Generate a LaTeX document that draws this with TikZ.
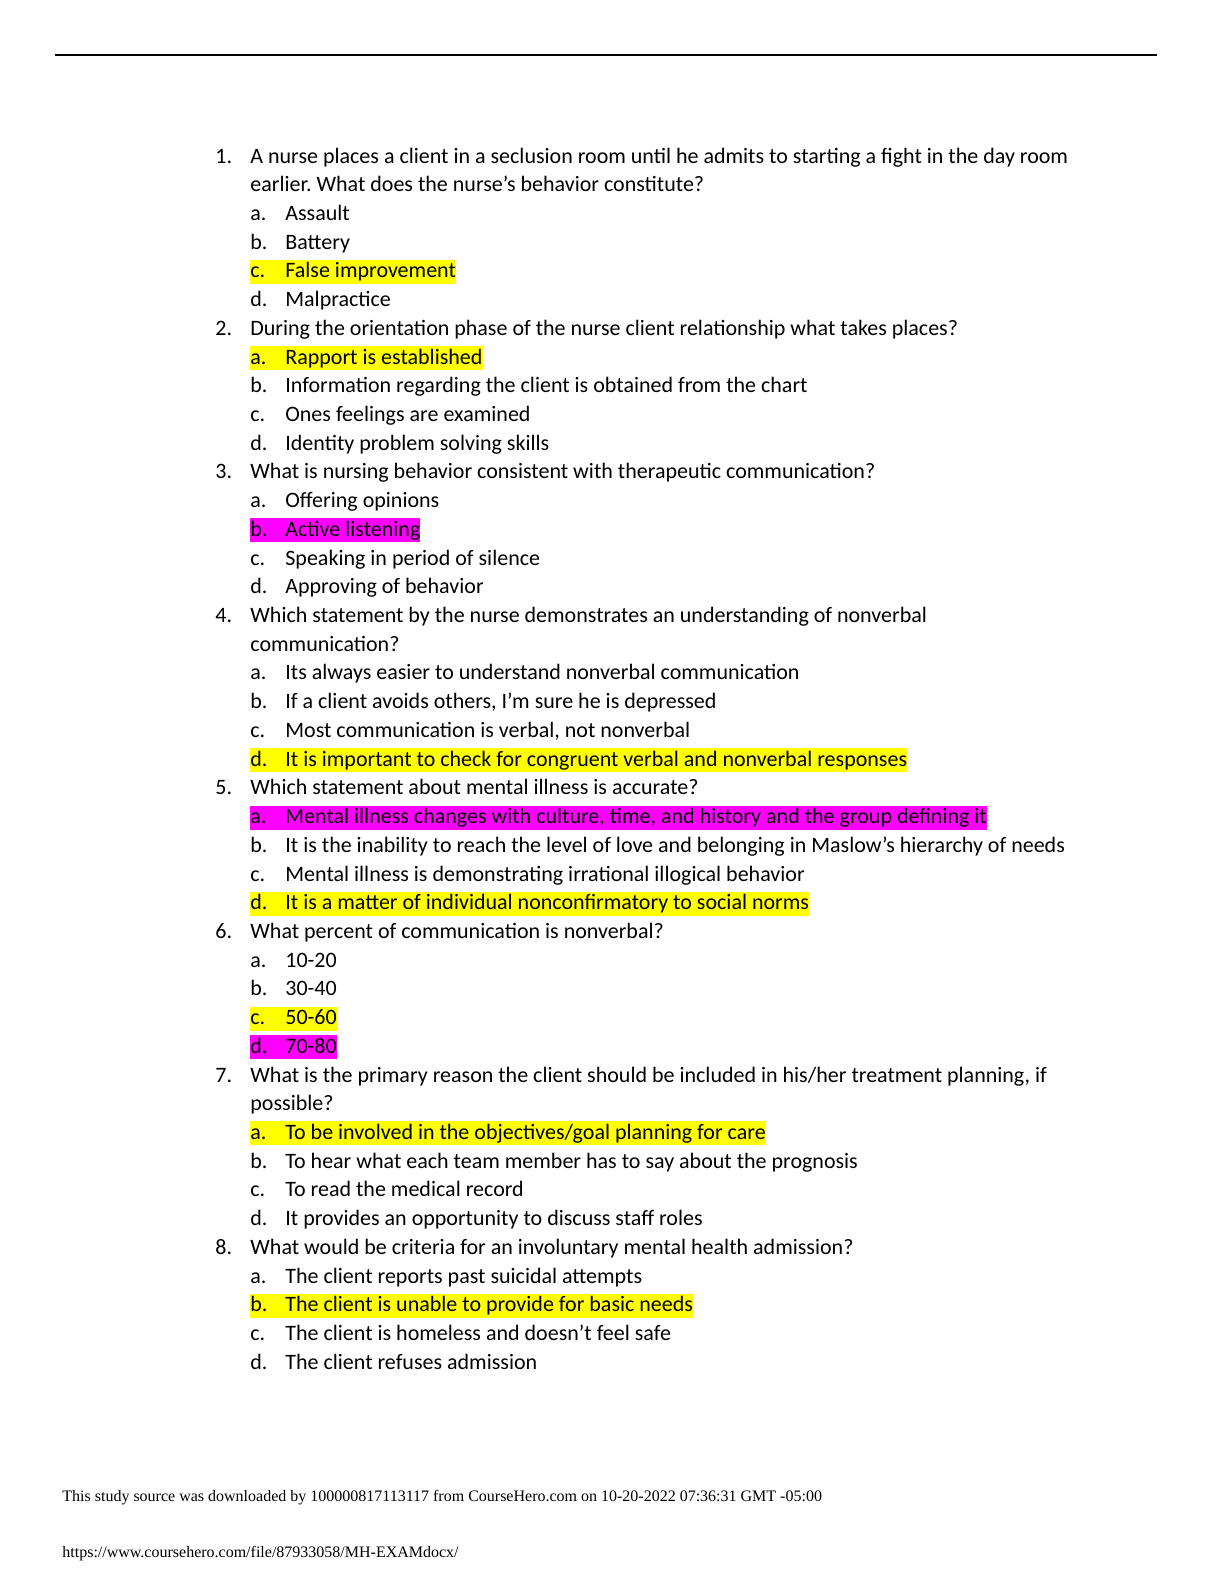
\documentclass[tikz,border=0pt]{standalone}
\usepackage{fontspec}
\setmainfont{Carlito}
\newfontfamily\footfont{Liberation Serif}
\definecolor{hlyellow}{RGB}{255,255,0}
\definecolor{hlmagenta}{RGB}{255,0,255}
\newcommand\optline[2]{\makebox[17.5pt][l]{#1}#2}
\begin{document}
\begin{tikzpicture}[x=0.5pt,y=-0.5pt]
  \tikzset{q/.style={anchor=base west, inner sep=0pt, font=\fontsize{11}{13}\selectfont},
           hl/.style={q, fill=#1, text height=9pt, text depth=3pt},
           foot/.style={anchor=base west, inner sep=0pt, font=\footfont\fontsize{8}{10}\selectfont}}
  \fill[white] (0,0) rectangle (1224,1584);
  \coordinate (rl) at (55,55);
  \coordinate (rr) at (1157,55);
  \draw[line width=0.6pt] (rl) -- (rr);

  \begin{scope}[yshift=-81.5pt, y=-14.36pt]
    % question lines
    \foreach \k/\n/\t in {0/1./{A nurse places a client in a seclusion room until he admits to starting a fight in the day room},
        1//{earlier.\ What does the nurse’s behavior constitute?},
        6/2./During the orientation phase of the nurse client relationship what takes places?,
        11/3./What is nursing behavior consistent with therapeutic communication?,
        16/4./Which statement by the nurse demonstrates an understanding of nonverbal,
        17//communication?,
        22/5./Which statement about mental illness is accurate?,
        27/6./What percent of communication is nonverbal?,
        32/7./{What is the primary reason the client should be included in his/her treatment planning, if},
        33//possible?,
        38/8./What would be criteria for an involuntary mental health admission?}
      \node[q] (n\k) at (215,\k) {\n} (250,\k) node[q] (t\k) {\t};

    % plain answers
    \foreach \k/\l/\t in {2/a./Assault, 3/b./Battery, 5/d./Malpractice,
        8/b./Information regarding the client is obtained from the chart,
        9/c./Ones feelings are examined, 10/d./Identity problem solving skills,
        12/a./Offering opinions, 14/c./Speaking in period of silence, 15/d./Approving of behavior,
        18/a./Its always easier to understand nonverbal communication,
        19/b./{If a client avoids others, I’m sure he is depressed},
        20/c./{Most communication is verbal, not nonverbal},
        24/b./It is the inability to reach the level of love and belonging in Maslow’s hierarchy of needs,
        25/c./Mental illness is demonstrating irrational illogical behavior,
        28/a./10-20, 29/b./30-40,
        35/b./To hear what each team member has to say about the prognosis,
        36/c./To read the medical record, 37/d./It provides an opportunity to discuss staff roles,
        39/a./The client reports past suicidal attempts,
        41/c./The client is homeless and doesn’t feel safe, 42/d./The client refuses admission}
      \node[q] (o\k) at (250,\k) {\optline{\l}{\t}};

    % highlighted answers
    \foreach \k/\c/\l/\t in {4/hlyellow/c./False improvement, 7/hlyellow/a./Rapport is established,
        13/hlmagenta/b./Active listening,
        21/hlyellow/d./It is important to check for congruent verbal and nonverbal responses,
        23/hlmagenta/a./{Mental illness changes with culture, time, and history and the group defining it},
        26/hlyellow/d./It is a matter of individual nonconfirmatory to social norms,
        30/hlyellow/c./50-60, 31/hlmagenta/d./70-80,
        34/hlyellow/a./{To be involved in the objectives/goal planning for care},
        40/hlyellow/b./The client is unable to provide for basic needs}
      \node[hl=\c] (o\k) at (250,\k) {\optline{\l}{\t}\hspace{3pt}};
  \end{scope}

  \node[foot] (src) at (62,1501) {This study source was downloaded by 100000817113117 from CourseHero.com on 10-20-2022 07:36:31 GMT -05:00};
  \node[foot] (url) at (62,1557) {https://www.coursehero.com/file/87933058/MH-EXAMdocx/};
  \pgfresetboundingbox
  \useasboundingbox (0,0) rectangle (1224,1584);
\end{tikzpicture}
\end{document}
